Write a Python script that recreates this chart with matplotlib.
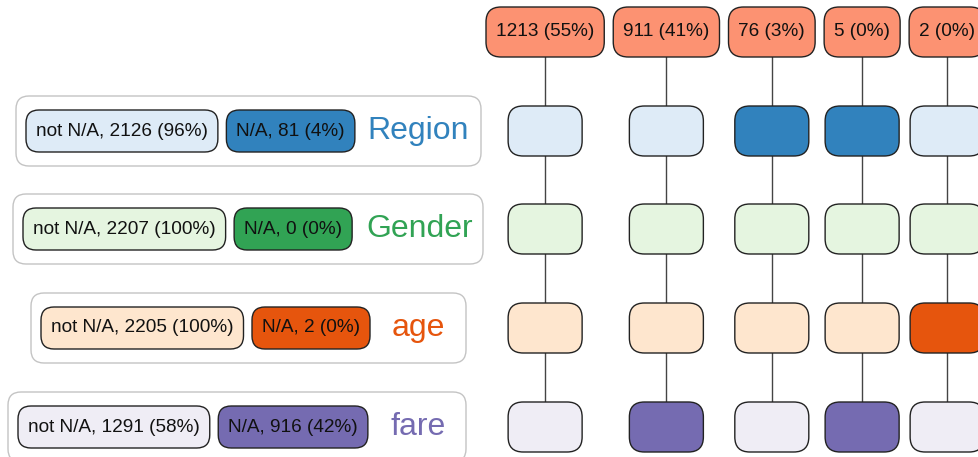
import matplotlib.pyplot as plt
from matplotlib.patches import FancyBboxPatch

plt.rcParams['font.family'] = ['Liberation Sans', 'DejaVu Sans']

# data: missing value patterns
variables = ['Region', 'Gender', 'age', 'fare']
pattern_counts = [1213, 911, 76, 5, 2]
# True where the variable is N/A in that pattern
pattern_missing = [
    [False, False, True, True, False],    # Region
    [False, False, False, False, False],  # Gender
    [False, False, False, False, True],   # age
    [False, True, False, True, False],    # fare
]
light_colors = ['#deebf7', '#e5f5e0', '#fee6ce', '#efedf5']
dark_colors = ['#3182bd', '#31a354', '#e6550d', '#756bb1']
header_color = '#fc9272'

total = sum(pattern_counts)
na_counts = [sum(c for c, m in zip(pattern_counts, row) if m) for row in pattern_missing]

# layout (pixels)
W, H = 979, 457
row_y = [131, 229, 328, 427]
header_y = 32
box_h = 50
node_w = 74
panel_left = [16, 13, 31, 8]
panel_right = [481, 483, 466, 466]
label_x = [418, 420, 418, 418]
small_fs = 13.7
big_fs = 23

fig = plt.figure(figsize=(W / 100, H / 100), dpi=100)
ax = fig.add_axes([0, 0, 1, 1])
ax.set_xlim(0, W)
ax.set_ylim(H, 0)
ax.axis('off')
renderer = fig.canvas.get_renderer()


def rbox(x0, yc, w, h, fc, ec='#222222', r=14, lw=1.0, z=2):
    p = FancyBboxPatch((x0 + r, yc - h / 2 + r), w - 2 * r, h - 2 * r,
                       boxstyle=f'round,pad={r},rounding_size={r}',
                       fc=fc, ec=ec, lw=lw, zorder=z)
    ax.add_patch(p)


def label(x, y, s, ha='center', **kw):
    t = ax.text(x, y, s, ha=ha, va='center', zorder=5, **kw)
    return t, t.get_window_extent(renderer).width


# header nodes, columns come from their widths
col_x = []
x = 486
for c in pattern_counts:
    s = f'{c} ({round(100 * c / total)}%)'
    t, tw = label(0, header_y, s, fontsize=small_fs, color='#111111')
    w = max(tw + 20, 76)
    cx = x + w / 2
    t.set_x(cx)
    rbox(x, header_y, w, box_h, header_color, r=15)
    col_x.append(cx)
    x += w + 9

# vertical edges
for cx in col_x:
    ax.plot([cx, cx], [header_y, row_y[-1]], color='#444444', lw=1.0, zorder=1)

# pattern nodes
for i, row in enumerate(pattern_missing):
    for cx, m in zip(col_x, row):
        fc = dark_colors[i] if m else light_colors[i]
        rbox(cx - node_w / 2, row_y[i], node_w, box_h, fc, r=15)

# left legend panels
for i, var in enumerate(variables):
    y = row_y[i]
    na = na_counts[i]
    ok = total - na
    rbox(panel_left[i], y, panel_right[i] - panel_left[i], 70, 'white',
         ec='#c4c4c4', r=13, lw=1.0, z=0)
    x0 = panel_left[i] + 10
    t, tw = label(0, y, f'not N/A, {ok} ({round(100 * ok / total)}%)',
                  fontsize=small_fs, color='#111111')
    t.set_x(x0 + tw / 2 + 10)
    rbox(x0, y, tw + 20, 42, light_colors[i], r=13)
    x0 += tw + 20 + 8.5
    t, tw = label(0, y, f'N/A, {na} ({round(100 * na / total)}%)',
                  fontsize=small_fs, color='#111111')
    t.set_x(x0 + tw / 2 + 10)
    rbox(x0, y, tw + 20, 42, dark_colors[i], r=13)
    label(label_x[i], y, var, fontsize=big_fs, color=dark_colors[i])

fig.savefig('out.png', dpi=100)
